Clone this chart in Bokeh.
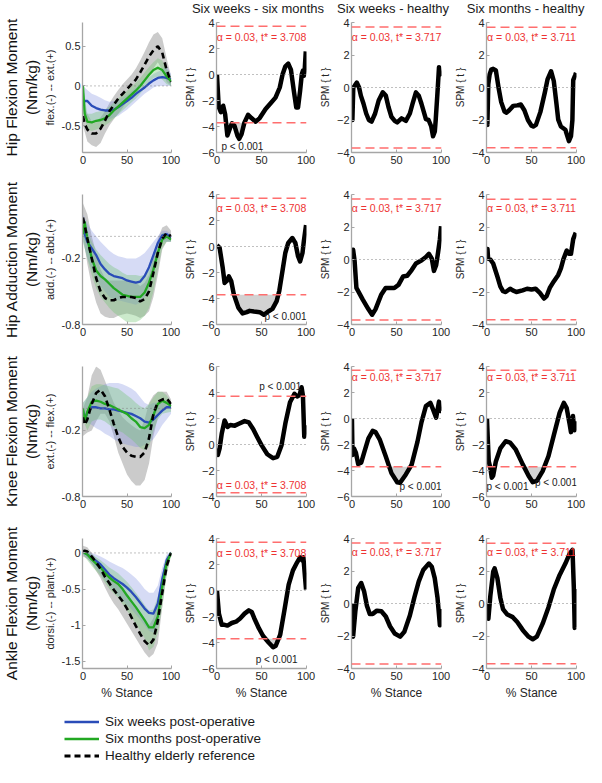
import numpy as np
from bokeh.plotting import figure
from bokeh.models import Range1d, Label, Title, Legend, LegendItem, Span
from bokeh.layouts import column, row
from bokeh.embed import file_html
from bokeh.resources import INLINE

FONT = "Liberation Sans"
BLUE = "#2a4cb8"
GREEN = "#22a822"
RED_LINE = "#ff6e6e"
RED_TEXT = "#ee3333"
AXIS_GREY = "#a6a6a6"
TEXT_DARK = "#262626"

# ---------------- data ----------------
COL_TITLES = ["Six weeks - six months", "Six weeks - healthy", "Six months - healthy"]
ROW_TITLES = ["Hip Flexion Moment", "Hip Adduction Moment", "Knee Flexion Moment", "Ankle Flexion Moment"]
UNIT = "(Nm/kg)"
YLABELS = ["flex.(-) -- ext.(+)", "add.(-) -- abd.(+)", "ext.(-) -- flex.(+)", "dorsi.(-) -- plant.(+)"]
LEGEND_LABELS = ["Six weeks post-operative", "Six months post-operative", "Healthy elderly reference"]
THRESH = [3.708, 3.717, 3.711]
ALPHA = 0.03
X_TICKS = [0, 50, 100]

XM = [0, 2, 5, 10, 15, 20, 25, 30, 35, 40, 45, 50, 55, 60, 65, 70, 75, 80, 85, 90, 95, 100]
XB = [0, 5, 10, 15, 20, 25, 30, 35, 40, 45, 50, 55, 60, 65, 70, 75, 80, 85, 90, 95, 100]

# Hip flexion
HIPF_HEALTHY = [-0.38, -0.48, -0.55, -0.6, -0.6, -0.54, -0.44, -0.32, -0.24, -0.16, -0.1, -0.04, 0.02, 0.08, 0.17, 0.27, 0.37, 0.45, 0.5, 0.42, 0.2, 0.05]
HIPF_MONTHS = [0.0, -0.35, -0.45, -0.46, -0.44, -0.43, -0.41, -0.37, -0.31, -0.26, -0.21, -0.16, -0.11, -0.06, 0.0, 0.07, 0.14, 0.2, 0.23, 0.2, 0.12, 0.06]
HIPF_WEEKS = [-0.22, -0.19, -0.19, -0.25, -0.28, -0.3, -0.31, -0.31, -0.3, -0.27, -0.23, -0.19, -0.15, -0.1, -0.06, -0.02, 0.03, 0.07, 0.1, 0.11, 0.1, 0.08]
HIPF_H_UP = [-0.25, -0.35, -0.45, -0.45, -0.4, -0.32, -0.22, -0.13, -0.05, 0.02, 0.08, 0.14, 0.22, 0.32, 0.43, 0.55, 0.65, 0.68, 0.6, 0.35, 0.12]
HIPF_H_LO = [-0.5, -0.7, -0.75, -0.77, -0.72, -0.6, -0.5, -0.42, -0.35, -0.28, -0.2, -0.12, -0.05, 0.02, 0.08, 0.15, 0.22, 0.3, 0.2, 0.05, 0.0]
HIPF_W_UP = [0.0, -0.05, -0.1, -0.12, -0.15, -0.18, -0.2, -0.19, -0.18, -0.15, -0.12, -0.07, -0.02, 0.03, 0.07, 0.11, 0.15, 0.18, 0.2, 0.25, 0.15]
HIPF_W_LO = [-0.3, -0.4, -0.45, -0.45, -0.45, -0.44, -0.42, -0.4, -0.38, -0.34, -0.3, -0.25, -0.2, -0.15, -0.1, -0.06, -0.02, 0.0, 0.0, 0.0, 0.0]
HIPF_M_UP = [0.0, -0.35, -0.35, -0.33, -0.32, -0.3, -0.26, -0.21, -0.16, -0.11, -0.06, -0.01, 0.04, 0.1, 0.17, 0.24, 0.3, 0.35, 0.32, 0.22, 0.12]
HIPF_M_LO = [-0.3, -0.55, -0.57, -0.55, -0.53, -0.5, -0.46, -0.41, -0.36, -0.31, -0.26, -0.21, -0.16, -0.1, -0.03, 0.04, 0.1, 0.12, 0.08, 0.02, 0.0]

# Hip adduction
HIPA_HEALTHY = [0.17, 0.1, -0.02, -0.2, -0.38, -0.5, -0.56, -0.58, -0.58, -0.56, -0.55, -0.55, -0.55, -0.56, -0.59, -0.57, -0.5, -0.33, -0.15, -0.02, 0.03, 0.0]
HIPA_MONTHS = [0.02, 0.13, -0.02, -0.2, -0.31, -0.36, -0.39, -0.43, -0.47, -0.5, -0.53, -0.54, -0.55, -0.55, -0.55, -0.51, -0.42, -0.3, -0.15, -0.03, 0.0, -0.03]
HIPA_WEEKS = [0.08, 0.02, -0.05, -0.11, -0.17, -0.25, -0.3, -0.34, -0.36, -0.37, -0.38, -0.4, -0.41, -0.42, -0.41, -0.36, -0.28, -0.17, -0.06, 0.01, 0.02, -0.01]
HIPA_H_UP = [0.3, 0.2, 0.0, -0.15, -0.3, -0.38, -0.4, -0.4, -0.4, -0.4, -0.4, -0.41, -0.42, -0.45, -0.42, -0.35, -0.18, -0.02, 0.08, 0.1, 0.05]
HIPA_H_LO = [0.0, -0.25, -0.45, -0.6, -0.7, -0.73, -0.74, -0.74, -0.72, -0.71, -0.7, -0.71, -0.72, -0.74, -0.72, -0.68, -0.55, -0.35, -0.12, -0.05, -0.05]
HIPA_W_UP = [0.2, 0.12, 0.05, 0.0, -0.05, -0.09, -0.13, -0.16, -0.18, -0.19, -0.2, -0.2, -0.2, -0.18, -0.15, -0.1, -0.05, 0.0, 0.05, 0.05, 0.02]
HIPA_W_LO = [-0.05, -0.2, -0.3, -0.38, -0.45, -0.5, -0.55, -0.57, -0.58, -0.59, -0.6, -0.61, -0.62, -0.6, -0.55, -0.47, -0.35, -0.2, -0.05, -0.05, -0.05]
HIPA_M_UP = [0.1, 0.05, -0.05, -0.12, -0.17, -0.21, -0.25, -0.28, -0.3, -0.33, -0.35, -0.35, -0.35, -0.36, -0.35, -0.3, -0.2, -0.08, 0.03, 0.03, 0.0]
HIPA_M_LO = [-0.05, -0.2, -0.35, -0.47, -0.55, -0.6, -0.65, -0.69, -0.72, -0.75, -0.78, -0.78, -0.78, -0.76, -0.72, -0.65, -0.5, -0.3, -0.1, -0.05, -0.05]

# Knee flexion
KNEE_HEALTHY = [-0.08, -0.15, -0.1, 0.04, 0.14, 0.17, 0.11, -0.01, -0.14, -0.26, -0.35, -0.4, -0.43, -0.44, -0.44, -0.4, -0.27, -0.05, 0.06, 0.08, 0.09, 0.04]
KNEE_MONTHS = [0.0, -0.12, -0.03, 0.06, 0.07, 0.06, 0.04, 0.03, 0.01, -0.01, -0.03, -0.05, -0.09, -0.12, -0.17, -0.18, -0.15, -0.06, 0.04, 0.07, 0.05, 0.02]
KNEE_WEEKS = [-0.02, -0.1, -0.04, 0.01, 0.01, 0.0, 0.0, -0.01, -0.01, -0.02, -0.03, -0.04, -0.05, -0.07, -0.09, -0.12, -0.13, -0.1, -0.06, -0.02, 0.01, 0.01]
KNEE_H_UP = [0.0, 0.1, 0.3, 0.38, 0.35, 0.25, 0.15, 0.05, -0.02, -0.08, -0.12, -0.15, -0.18, -0.2, -0.1, 0.05, 0.12, 0.15, 0.15, 0.15, 0.08]
KNEE_H_LO = [-0.25, -0.22, -0.2, -0.12, -0.05, -0.05, -0.12, -0.25, -0.4, -0.5, -0.6, -0.66, -0.7, -0.7, -0.65, -0.5, -0.25, -0.08, -0.02, 0.0, 0.0]
KNEE_W_UP = [0.05, 0.1, 0.15, 0.18, 0.2, 0.22, 0.23, 0.23, 0.23, 0.22, 0.2, 0.18, 0.15, 0.1, 0.05, 0.03, 0.05, 0.05, 0.05, 0.05, 0.05]
KNEE_W_LO = [-0.1, -0.13, -0.15, -0.18, -0.2, -0.23, -0.25, -0.28, -0.3, -0.32, -0.33, -0.34, -0.35, -0.35, -0.33, -0.31, -0.28, -0.22, -0.15, -0.1, -0.05]
KNEE_M_UP = [0.05, 0.1, 0.2, 0.22, 0.22, 0.21, 0.2, 0.19, 0.18, 0.15, 0.12, 0.09, 0.05, 0.02, 0.0, 0.04, 0.1, 0.15, 0.15, 0.12, 0.05]
KNEE_M_LO = [-0.1, -0.2, -0.12, -0.1, -0.1, -0.12, -0.15, -0.17, -0.2, -0.22, -0.25, -0.28, -0.32, -0.36, -0.38, -0.35, -0.2, -0.1, -0.05, -0.04, -0.03]

# Ankle flexion
ANK_HEALTHY = [0.02, 0.03, 0.02, -0.05, -0.13, -0.22, -0.33, -0.42, -0.51, -0.59, -0.67, -0.77, -0.89, -1.01, -1.12, -1.22, -1.28, -1.2, -0.94, -0.55, -0.18, 0.0]
ANK_MONTHS = [0.02, 0.0, -0.02, -0.09, -0.15, -0.2, -0.28, -0.34, -0.39, -0.43, -0.5, -0.59, -0.67, -0.75, -0.84, -0.93, -1.03, -1.03, -0.88, -0.47, -0.14, 0.0]
ANK_WEEKS = [0.02, 0.0, -0.02, -0.07, -0.11, -0.16, -0.23, -0.3, -0.35, -0.39, -0.43, -0.48, -0.54, -0.61, -0.69, -0.77, -0.83, -0.84, -0.7, -0.36, -0.1, 0.0]
ANK_H_UP = [0.1, 0.08, 0.0, -0.08, -0.15, -0.22, -0.3, -0.36, -0.42, -0.48, -0.55, -0.65, -0.75, -0.85, -0.95, -1.0, -0.9, -0.65, -0.3, -0.05, 0.02]
ANK_H_LO = [-0.05, -0.08, -0.15, -0.25, -0.35, -0.48, -0.6, -0.7, -0.78, -0.88, -0.98, -1.08, -1.18, -1.28, -1.38, -1.45, -1.4, -1.25, -0.75, -0.3, -0.02]
ANK_W_UP = [0.05, 0.02, 0.0, -0.02, -0.05, -0.08, -0.12, -0.15, -0.18, -0.21, -0.25, -0.3, -0.35, -0.42, -0.5, -0.55, -0.55, -0.45, -0.2, -0.02, 0.02]
ANK_W_LO = [-0.02, -0.08, -0.15, -0.22, -0.3, -0.38, -0.45, -0.52, -0.6, -0.66, -0.72, -0.78, -0.85, -0.92, -1.0, -1.08, -1.1, -1.0, -0.6, -0.2, -0.02]
ANK_M_UP = [0.05, 0.02, -0.02, -0.06, -0.1, -0.15, -0.2, -0.24, -0.28, -0.34, -0.4, -0.47, -0.55, -0.63, -0.72, -0.8, -0.78, -0.6, -0.35, -0.1, 0.02]
ANK_M_LO = [-0.02, -0.1, -0.18, -0.25, -0.32, -0.41, -0.5, -0.56, -0.62, -0.71, -0.8, -0.89, -0.98, -1.08, -1.18, -1.35, -1.3, -1.1, -0.75, -0.3, -0.05]

MOM_YRANGE = [(-0.84, 0.8), (-0.8, 0.38), (-0.8, 0.38), (-1.6, 0.2)]
MOM_TICKS = [[-0.5, 0, 0.5], [-0.8, -0.2], [-0.8, -0.2], [-1.5, -1, -0.5, 0]]
MOM_TICK_LABELS = [["-0.5", "0", "0.5"], ["-0.8", "-0.2"], ["-0.8", "-0.2"], ["-1.5", "-1", "-0.5", "0"]]

# SPM{t} curves  (row = variable, col = comparison)
R1C2_X = [0, 2, 4.4, 7, 9.2, 11.7, 15, 17, 19.7, 23, 25, 27.6, 30.8, 35, 38.7, 43.5, 48, 54.6, 61, 65.7, 70.5, 73.6, 76.8, 80, 83, 86.3, 89, 91, 93.3, 95.2, 96.5, 97.5, 98.4, 99.7]
R1C2_Y = [0, -2.5, -2.9, -2.4, -3.05, -4.7, -4.05, -3.75, -3.95, -4.7, -4.95, -4.6, -3.7, -3.1, -3.35, -3.63, -3.35, -2.66, -2.16, -1.78, -1.0, 0.0, 0.63, 0.84, 0.38, -1.27, -2.54, -2.54, -1.27, 0.0, 0.3, -0.1, 0.25, 1.78]
R1C3_X = [0, 0.5, 1.5, 3, 5.5, 8, 10, 13, 16, 19, 22, 26, 30, 34.6, 38, 41, 44.3, 48, 50.8, 55.7, 60.5, 65, 68, 71.8, 75, 78, 83, 86, 89, 91, 93, 94, 96, 97.7, 99, 100]
R1C3_Y = [0, -2.0, 0.0, 0.1, 0.3, 0.0, -0.5, -1.0, -1.6, -2.0, -2.1, -1.6, -0.8, -0.3, -0.5, -1.2, -1.8, -2.05, -2.15, -1.9, -2.05, -1.6, -1.0, -0.3, -0.5, -1.0, -1.95, -2.0, -2.4, -3.0, -2.7, -2.0, -0.3, 1.25, 0.8, 1.0]
R1C4_X = [0, 0.5, 1.5, 3, 4.8, 7, 10, 13, 16, 19.7, 22, 25, 29.5, 34, 38, 42, 46, 50, 52, 55, 60, 65, 68, 72, 75, 78, 80, 83, 88, 92, 94.3, 95.9, 96.8, 99, 100]
R1C4_Y = [0, -2.3, 0.2, 0.8, 1.1, 1.15, 1.05, 0.0, -0.9, -1.48, -1.55, -1.4, -1.13, -1.1, -1.05, -1.4, -2.0, -2.35, -2.4, -2.3, -1.5, -0.3, 0.5, 1.0, 0.4, -1.0, -1.98, -2.4, -2.6, -3.3, -3.0, -2.0, 0.45, 0.75, 0.9]

R2C2_X = [0, 3, 6.4, 8.6, 11, 13.4, 16, 19, 24, 28.8, 33.5, 36.7, 41.5, 48, 52.7, 57.5, 62.3, 67, 70, 73.5, 76.7, 80, 84.6, 88, 91, 93.3, 96, 97.5, 100]
R2C2_Y = [0.1, -0.1, -1.6, -2.8, -2.65, -2.3, -2.65, -3.7, -4.7, -5.15, -5.05, -4.95, -5.0, -5.05, -5.25, -5.0, -4.8, -4.2, -3.4, -1.9, -0.5, 0.27, 0.65, 0.27, -0.75, -1.15, -0.5, 0.4, 1.65]
R2C3_X = [0, 1.3, 3, 5, 7, 12, 18.4, 22.6, 26.5, 33, 37.8, 47.5, 52.4, 57.3, 62, 67, 71.8, 78.3, 83, 86.4, 89.6, 92, 94.5, 96.7, 98.7, 100]
R2C3_Y = [0, 0.6, -0.1, -1.75, -1.95, -2.45, -3.05, -3.4, -3.05, -2.15, -1.75, -1.76, -1.55, -1.05, -1.0, -0.65, -0.25, -0.05, 0.15, 0.35, 0.05, -0.7, -0.35, 0.45, 1.25, 2.05]
R2C4_X = [0, 0.6, 1.3, 3.8, 7, 11.7, 15, 18, 21, 26, 29, 33, 40, 45, 50, 54.6, 59.4, 64, 67, 70.5, 75, 80, 83, 86, 89.5, 92, 94.3, 96.8, 99.7]
R2C4_Y = [0.3, 0.65, 0.05, 0.0, -0.25, -1.05, -1.65, -1.95, -2.0, -1.8, -1.9, -2.0, -1.9, -1.8, -1.85, -1.8, -2.05, -2.4, -2.25, -1.75, -1.35, -0.95, -0.55, 0.05, 0.55, 0.35, 0.35, 1.25, 1.65]

R3C2_X = [0, 1, 3, 5.4, 8.6, 12, 15, 20, 24.6, 31, 35.8, 40.6, 45, 50, 56.5, 63, 67.7, 72.5, 77, 82, 87, 90, 92.7, 95, 96.5, 98, 100]
R3C2_Y = [-0.3, -0.8, -0.3, 0.85, 1.85, 1.35, 1.5, 1.45, 1.6, 1.8, 1.7, 1.2, 0.6, -0.05, -0.75, -1.05, -0.95, -0.05, 1.7, 3.25, 3.9, 3.7, 3.8, 4.4, 3.75, 0.6, 1.5]
R3C3_X = [0, 0.6, 2.3, 4.5, 7, 10.4, 13.6, 18.4, 23.3, 26.5, 31.4, 37.9, 44.3, 50.8, 54, 60.5, 67, 73.5, 78, 83, 88, 91, 94.5, 97.7, 99, 100]
R3C3_Y = [0, -2.8, -2.3, -2.65, -3.5, -3.4, -2.65, -1.55, -0.95, -1.05, -1.65, -2.9, -4.2, -4.9, -4.95, -4.3, -3.55, -1.8, -0.3, 0.95, 1.2, 0.7, 0.07, 1.3, 0.57, 0.57]
R3C4_X = [0, 2, 3.8, 5.4, 7, 10, 15, 21, 26, 32.4, 40.3, 46.7, 51.4, 56, 62.5, 69, 75, 81.6, 86.3, 89.5, 92.7, 94.3, 96.5, 97.5, 98.4, 100]
R3C4_Y = [0, -3.3, -3.8, -4.55, -4.4, -3.3, -2.3, -1.75, -1.85, -2.4, -3.55, -4.4, -4.9, -4.8, -4.05, -2.9, -1.3, 0.45, 1.2, 0.8, -0.4, -1.05, 0.2, -0.55, -0.9, -0.2]

R4C2_X = [0, 2.2, 5.4, 8.6, 11.8, 16.6, 21.4, 26, 31, 35.8, 39, 42, 47, 51.8, 58, 63, 66, 71, 75.7, 80.5, 85.3, 90, 93.3, 95.8, 97, 100]
R4C2_Y = [0, -1.78, -2.64, -2.64, -2.7, -2.5, -2.4, -2.15, -1.78, -1.53, -1.65, -2.15, -2.9, -3.5, -4.0, -4.37, -4.25, -3.4, -1.53, 0.45, 1.55, 2.17, 2.55, 2.3, 2.55, 0.07]
R4C3_X = [0, 1.3, 3.9, 7, 10.4, 13.6, 16.8, 20, 23.3, 28, 33, 38, 42.7, 48, 54, 58.8, 65, 70, 75, 80, 86.4, 89.6, 92.9, 96, 98.7, 100]
R4C3_Y = [0, -2.04, -0.44, 0.96, 1.26, 0.76, -0.14, -0.64, -0.64, -0.44, -0.48, -0.8, -1.4, -1.85, -2.04, -1.74, -0.74, 0.36, 1.36, 2.06, 2.46, 2.26, 1.56, 0.36, -1.34, -0.34]
R4C4_X = [0, 1.6, 3.8, 7, 8.6, 11.7, 15, 18, 22.9, 29, 34, 40.3, 46.7, 51.4, 56, 62.5, 69, 75, 81.6, 88, 92.7, 96, 97.5, 98.5, 99.5, 100]
R4C4_Y = [0, -0.94, 0.46, 1.96, 2.16, 1.56, 0.36, -0.34, -0.68, -0.84, -1.14, -1.64, -2.04, -2.2, -2.04, -1.24, -0.24, 0.86, 1.76, 2.46, 3.06, 3.3, 1.0, -1.5, 0.9, 0.9]

SPM_YRANGE = [[(-6, 4), (-4, 4), (-4, 4)],
              [(-6, 4), (-4, 4), (-4, 4)],
              [(-4, 6), (-6, 4), (-6, 4)],
              [(-6, 4), (-4, 4), (-4, 4)]]

# ------------- assemble --------------
MOMENTS = [
    dict(h=HIPF_HEALTHY, m=HIPF_MONTHS, w=HIPF_WEEKS, hu=HIPF_H_UP, hl=HIPF_H_LO, wu=HIPF_W_UP, wl=HIPF_W_LO, mu=HIPF_M_UP, ml=HIPF_M_LO),
    dict(h=HIPA_HEALTHY, m=HIPA_MONTHS, w=HIPA_WEEKS, hu=HIPA_H_UP, hl=HIPA_H_LO, wu=HIPA_W_UP, wl=HIPA_W_LO, mu=HIPA_M_UP, ml=HIPA_M_LO),
    dict(h=KNEE_HEALTHY, m=KNEE_MONTHS, w=KNEE_WEEKS, hu=KNEE_H_UP, hl=KNEE_H_LO, wu=KNEE_W_UP, wl=KNEE_W_LO, mu=KNEE_M_UP, ml=KNEE_M_LO),
    dict(h=ANK_HEALTHY, m=ANK_MONTHS, w=ANK_WEEKS, hu=ANK_H_UP, hl=ANK_H_LO, wu=ANK_W_UP, wl=ANK_W_LO, mu=ANK_M_UP, ml=ANK_M_LO),
]
SPM = [
    [(R1C2_X, R1C2_Y), (R1C3_X, R1C3_Y), (R1C4_X, R1C4_Y)],
    [(R2C2_X, R2C2_Y), (R2C3_X, R2C3_Y), (R2C4_X, R2C4_Y)],
    [(R3C2_X, R3C2_Y), (R3C3_X, R3C3_Y), (R3C4_X, R3C4_Y)],
    [(R4C2_X, R4C2_Y), (R4C3_X, R4C3_Y), (R4C4_X, R4C4_Y)],
]

# annotation placement (style)
ALPHA_LABEL_Y = [[2.86, 3.1, 3.1], [3.0, 3.15, 3.15], [-3.08, 3.17, 3.17], [2.9, 3.15, 3.15]]
P_LABELS = {
    (0, 0): [(5, -5.55, "left")],
    (1, 0): [(100.5, -5.4, "right")],
    (2, 0): [(71, 4.5, "center")],
    (2, 1): [(100.5, -5.2, "right")],
    (2, 2): [(-0.5, -5.25, "left"), (101, -4.95, "right")],
    (3, 0): [(67, -5.3, "center")],
}

COLW = [181, 135, 135, 135]
BL = [76, 28, 28, 28]
BR = [10, 10, 10, 10]
TITLE_H = 16
ROWH = [158, 172, 172, 184]
BT = [6, 20, 20, 20]
BB = [22, 22, 22, 34]
ROW_TITLE_SIZE = "15.5px"


def style_axes(p, yticks, ylabels=None):
    p.xgrid.visible = False
    p.ygrid.visible = False
    p.outline_line_color = None
    p.background_fill_color = "white"
    p.border_fill_color = "white"
    for ax in (p.xaxis[0], p.yaxis[0]):
        ax.axis_line_color = AXIS_GREY
        ax.axis_line_width = 1.3
        ax.major_tick_line_color = AXIS_GREY
        ax.major_tick_in = 3
        ax.major_tick_out = 0
        ax.minor_tick_line_color = None
        ax.major_label_text_font = FONT
        ax.major_label_text_font_size = "11px"
        ax.major_label_text_color = TEXT_DARK
        ax.major_label_standoff = 3
        ax.axis_label_text_font = FONT
        ax.axis_label_text_font_style = "normal"
        ax.axis_label_text_color = TEXT_DARK
        ax.axis_label_standoff = 3
    p.xaxis.ticker = X_TICKS
    p.yaxis.ticker = yticks
    p.yaxis.major_label_standoff = 2
    if ylabels is not None:
        p.yaxis.major_label_overrides = {t: l for t, l in zip(yticks, ylabels)}


def make_fig(r, c, yr):
    p = figure(width=COLW[c], height=ROWH[r],
               x_range=Range1d(-0.5, 100.5), y_range=Range1d(*yr),
               toolbar_location=None, output_backend="svg",
               min_border_left=BL[c], min_border_right=BR[c],
               min_border_top=BT[r], min_border_bottom=BB[r],
               title=None)
    return p


# ---- column-title strip ----
tf = figure(width=586, height=TITLE_H, x_range=Range1d(0, 586), y_range=Range1d(0, TITLE_H),
            toolbar_location=None, output_backend="svg",
            x_axis_type=None, y_axis_type=None, min_border=0)
tf.outline_line_color = None
for k in range(3):
    c = k + 1
    frame_w = COLW[c] - BL[c] - BR[c]
    cx = sum(COLW[:c]) + BL[c] + frame_w / 2
    if k == 2:
        tf.add_layout(Label(x=584, y=TITLE_H / 2, text=COL_TITLES[k], text_align="right",
                            text_baseline="middle", text_font=FONT, text_font_size="13px",
                            text_color="#1a1a1a"))
    else:
        tf.add_layout(Label(x=cx, y=TITLE_H / 2, text=COL_TITLES[k], text_align="center",
                            text_baseline="middle", text_font=FONT, text_font_size="13px",
                            text_color="#1a1a1a"))

rows = []
for r in range(4):
    figs = []
    # ---- moment panel ----
    d = MOMENTS[r]
    p = make_fig(r, 0, MOM_YRANGE[r])
    p.varea(x=XB, y1=d["hl"], y2=d["hu"], fill_color="#8c8c8c", fill_alpha=0.45)
    p.varea(x=XB, y1=d["wl"], y2=d["wu"], fill_color="#7f8fe0", fill_alpha=0.32)
    p.varea(x=XB, y1=d["ml"], y2=d["mu"], fill_color="#6cc46c", fill_alpha=0.35)
    p.add_layout(Span(location=0, dimension="width", line_color="#808080",
                      line_width=1, line_dash="1 3"))
    p.line(x=XM, y=d["w"], line_color=BLUE, line_width=2.3, line_join="round")
    p.line(x=XM, y=d["m"], line_color=GREEN, line_width=2.3, line_join="round")
    p.line(x=XM, y=d["h"], line_color="black", line_width=2.6, line_dash="6 4")
    style_axes(p, MOM_TICKS[r], MOM_TICK_LABELS[r])
    p.yaxis.axis_label = YLABELS[r]
    p.yaxis.axis_label_text_font_size = "11px"
    p.add_layout(Title(text=UNIT, align="center", text_font=FONT, text_font_size=ROW_TITLE_SIZE,
                       text_font_style="normal", text_color="#111111", standoff=1), "left")
    p.add_layout(Title(text=ROW_TITLES[r], align="center", text_font=FONT, text_font_size=ROW_TITLE_SIZE,
                       text_font_style="normal", text_color="#111111", standoff=1), "left")
    if r == 3:
        p.xaxis.axis_label = "% Stance"
        p.xaxis.axis_label_text_font_size = "12px"
    figs.append(p)

    # ---- SPM panels ----
    for k in range(3):
        c = k + 1
        thr = THRESH[k]
        p = make_fig(r, c, SPM_YRANGE[r][k])
        sx, sy = SPM[r][k]
        sy = np.array(sy, dtype=float)
        p.varea(x=sx, y1=np.full(len(sy), -thr), y2=np.minimum(sy, -thr),
                fill_color="#d2d2d2", fill_alpha=1.0)
        p.varea(x=sx, y1=np.full(len(sy), thr), y2=np.maximum(sy, thr),
                fill_color="#d2d2d2", fill_alpha=1.0)
        p.add_layout(Span(location=0, dimension="width", line_color="#808080",
                          line_width=1, line_dash="1 3"))
        p.line(x=sx, y=sy, line_color="black", line_width=4.5, line_join="round")
        for s in (thr, -thr):
            p.add_layout(Span(location=s, dimension="width", line_color=RED_LINE,
                              line_width=1.5, line_dash="9 5"))
        p.add_layout(Label(x=50, y=ALPHA_LABEL_Y[r][k],
                           text=f"\u03b1 = {ALPHA:g}, t* = {thr:.3f}",
                           text_align="center", text_baseline="middle",
                           text_font=FONT, text_font_size="10.5px", text_color=RED_TEXT))
        for (lx, ly, al) in P_LABELS.get((r, k), []):
            p.add_layout(Label(x=lx, y=ly, text="p < 0.001", text_align=al,
                               text_baseline="middle", text_font=FONT,
                               text_font_size="10px", text_color="#1a1a1a"))
        lo, hi = SPM_YRANGE[r][k]
        style_axes(p, list(range(lo, hi + 1, 2)))
        p.yaxis.axis_label = "SPM { t }"
        p.yaxis.axis_label_text_font_size = "10px"
        if r == 3:
            p.xaxis.axis_label = "% Stance"
            p.xaxis.axis_label_text_font_size = "12px"
        figs.append(p)
    rows.append(row(*figs, spacing=0))

# ---- legend strip ----
lf = figure(width=586, height=63, x_range=Range1d(0, 1), y_range=Range1d(0, 1),
            toolbar_location=None, output_backend="svg",
            x_axis_type=None, y_axis_type=None, min_border=0)
lf.outline_line_color = None
r_w = lf.line(x=[np.nan], y=[np.nan], line_color=BLUE, line_width=2.5)
r_m = lf.line(x=[np.nan], y=[np.nan], line_color=GREEN, line_width=2.5)
r_h = lf.line(x=[np.nan], y=[np.nan], line_color="black", line_width=2.8, line_dash="6 4")
leg = Legend(items=[LegendItem(label=LEGEND_LABELS[0], renderers=[r_w]),
                    LegendItem(label=LEGEND_LABELS[1], renderers=[r_m]),
                    LegendItem(label=LEGEND_LABELS[2], renderers=[r_h])],
             location=(64, 1), orientation="vertical",
             glyph_width=35, glyph_height=17, label_height=17, label_standoff=6,
             spacing=0, padding=0, margin=0,
             border_line_color=None, background_fill_alpha=0,
             label_text_font=FONT, label_text_font_size="13.5px", label_text_color="#1a1a1a")
lf.add_layout(leg)

layout = column(tf, *rows, lf, spacing=0)
open("out.html", "w").write(file_html(layout, INLINE, title="Joint moments and SPM"))
